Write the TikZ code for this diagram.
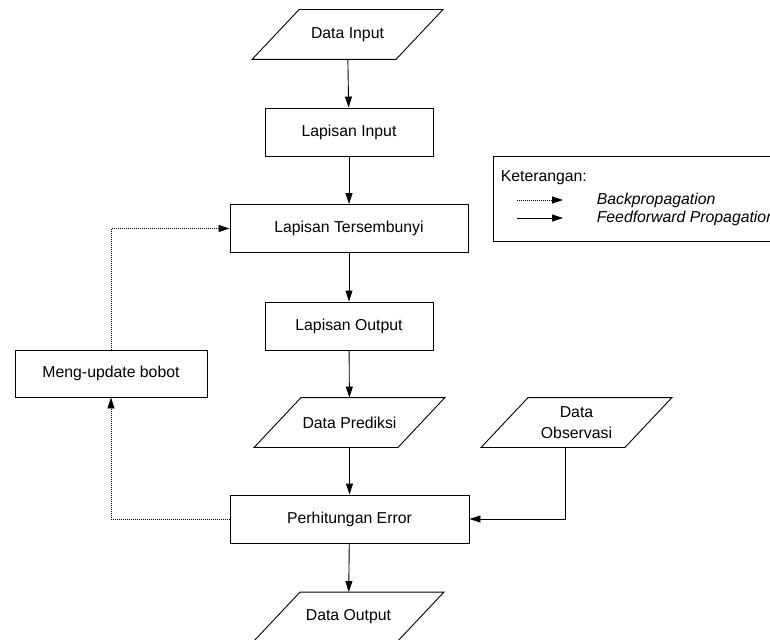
\documentclass[tikz,border=0pt]{standalone}
\usepackage{fontspec}
\setmainfont{Liberation Sans}
\usetikzlibrary{arrows.meta}

\begin{document}
\begin{tikzpicture}[x=1pt, y=-1pt,
      font=\fontsize{15.8}{21}\selectfont,
      line width=0.9pt,
      proses/.style={rectangle, draw, minimum height=48pt, inner sep=0pt},
      datanode/.style={rectangle, minimum width=190pt, minimum height=49pt,
        inner sep=0pt, align=center,
        append after command={\pgfextra{\let\datanama=\tikzlastnode
          \draw (\datanama.south west) -- ([xshift=-47pt]\datanama.south east)
          -- (\datanama.north east) -- ([xshift=47pt]\datanama.north west) -- cycle;}}},
      balik/.style={->, dash pattern=on 1pt off 1pt},
      >={Triangle[length=11pt,width=7pt]}]
    \clip (0,0) rectangle (770,639);
    % alur utama
    \node[datanode] (din) at (347.5,34.5) {Data Input};
    \node[proses, minimum width=168pt] (lin) at (349,132) {Lapisan Input};
    \node[proses, minimum width=238pt] (lts) at (349,228.5) {Lapisan Tersembunyi};
    \node[proses, minimum width=168pt] (lout) at (349,326) {Lapisan Output};
    \node[datanode] (dpred) at (349.5,422.5) {Data Prediksi};
    \node[datanode] (dobs) at (576.5,422.5) {Data\\Observasi};
    \node[proses, minimum width=239pt] (perr) at (349.5,519) {Perhitungan Error};
    \node[datanode] (dout) at (348.5,617) {Data Output};
    \node[proses, minimum width=192pt, minimum height=47pt] (mub) at (111,373.5) {Meng-update bobot};
    \draw[->] (din) -- (lin);
    \draw[->] (lin) -- (lts);
    \draw[->] (lts) -- (lout);
    \draw[->] (lout) -- (dpred);
    \draw[->] (dpred) -- (perr);
    \draw[->] (perr) -- (dout);
    \draw[->] ([xshift=-11.5pt]dobs.south) |- (perr.east);
    \draw[balik] (perr.west) -| (mub.south);
    \draw[balik] (mub.north) |- (lts.west);
    % keterangan
    \draw (493,156) rectangle (800,241);
    \node[anchor=west] (ket) at (497,178) {Keterangan:};
    \coordinate (bp1) at (517,200);
    \coordinate (bp2) at (563,200);
    \coordinate (ff1) at (517,218);
    \coordinate (ff2) at (563,218);
    \draw[balik] (bp1) -- (bp2);
    \draw[->] (ff1) -- (ff2);
    \node[anchor=west, font=\fontsize{15.8}{19}\selectfont\itshape] (tbp) at (593,200) {Backpropagation};
    \node[anchor=west, font=\fontsize{15.8}{19}\selectfont\itshape] (tff) at (593,218) {Feedforward Propagation};
  \end{tikzpicture}
\end{document}
